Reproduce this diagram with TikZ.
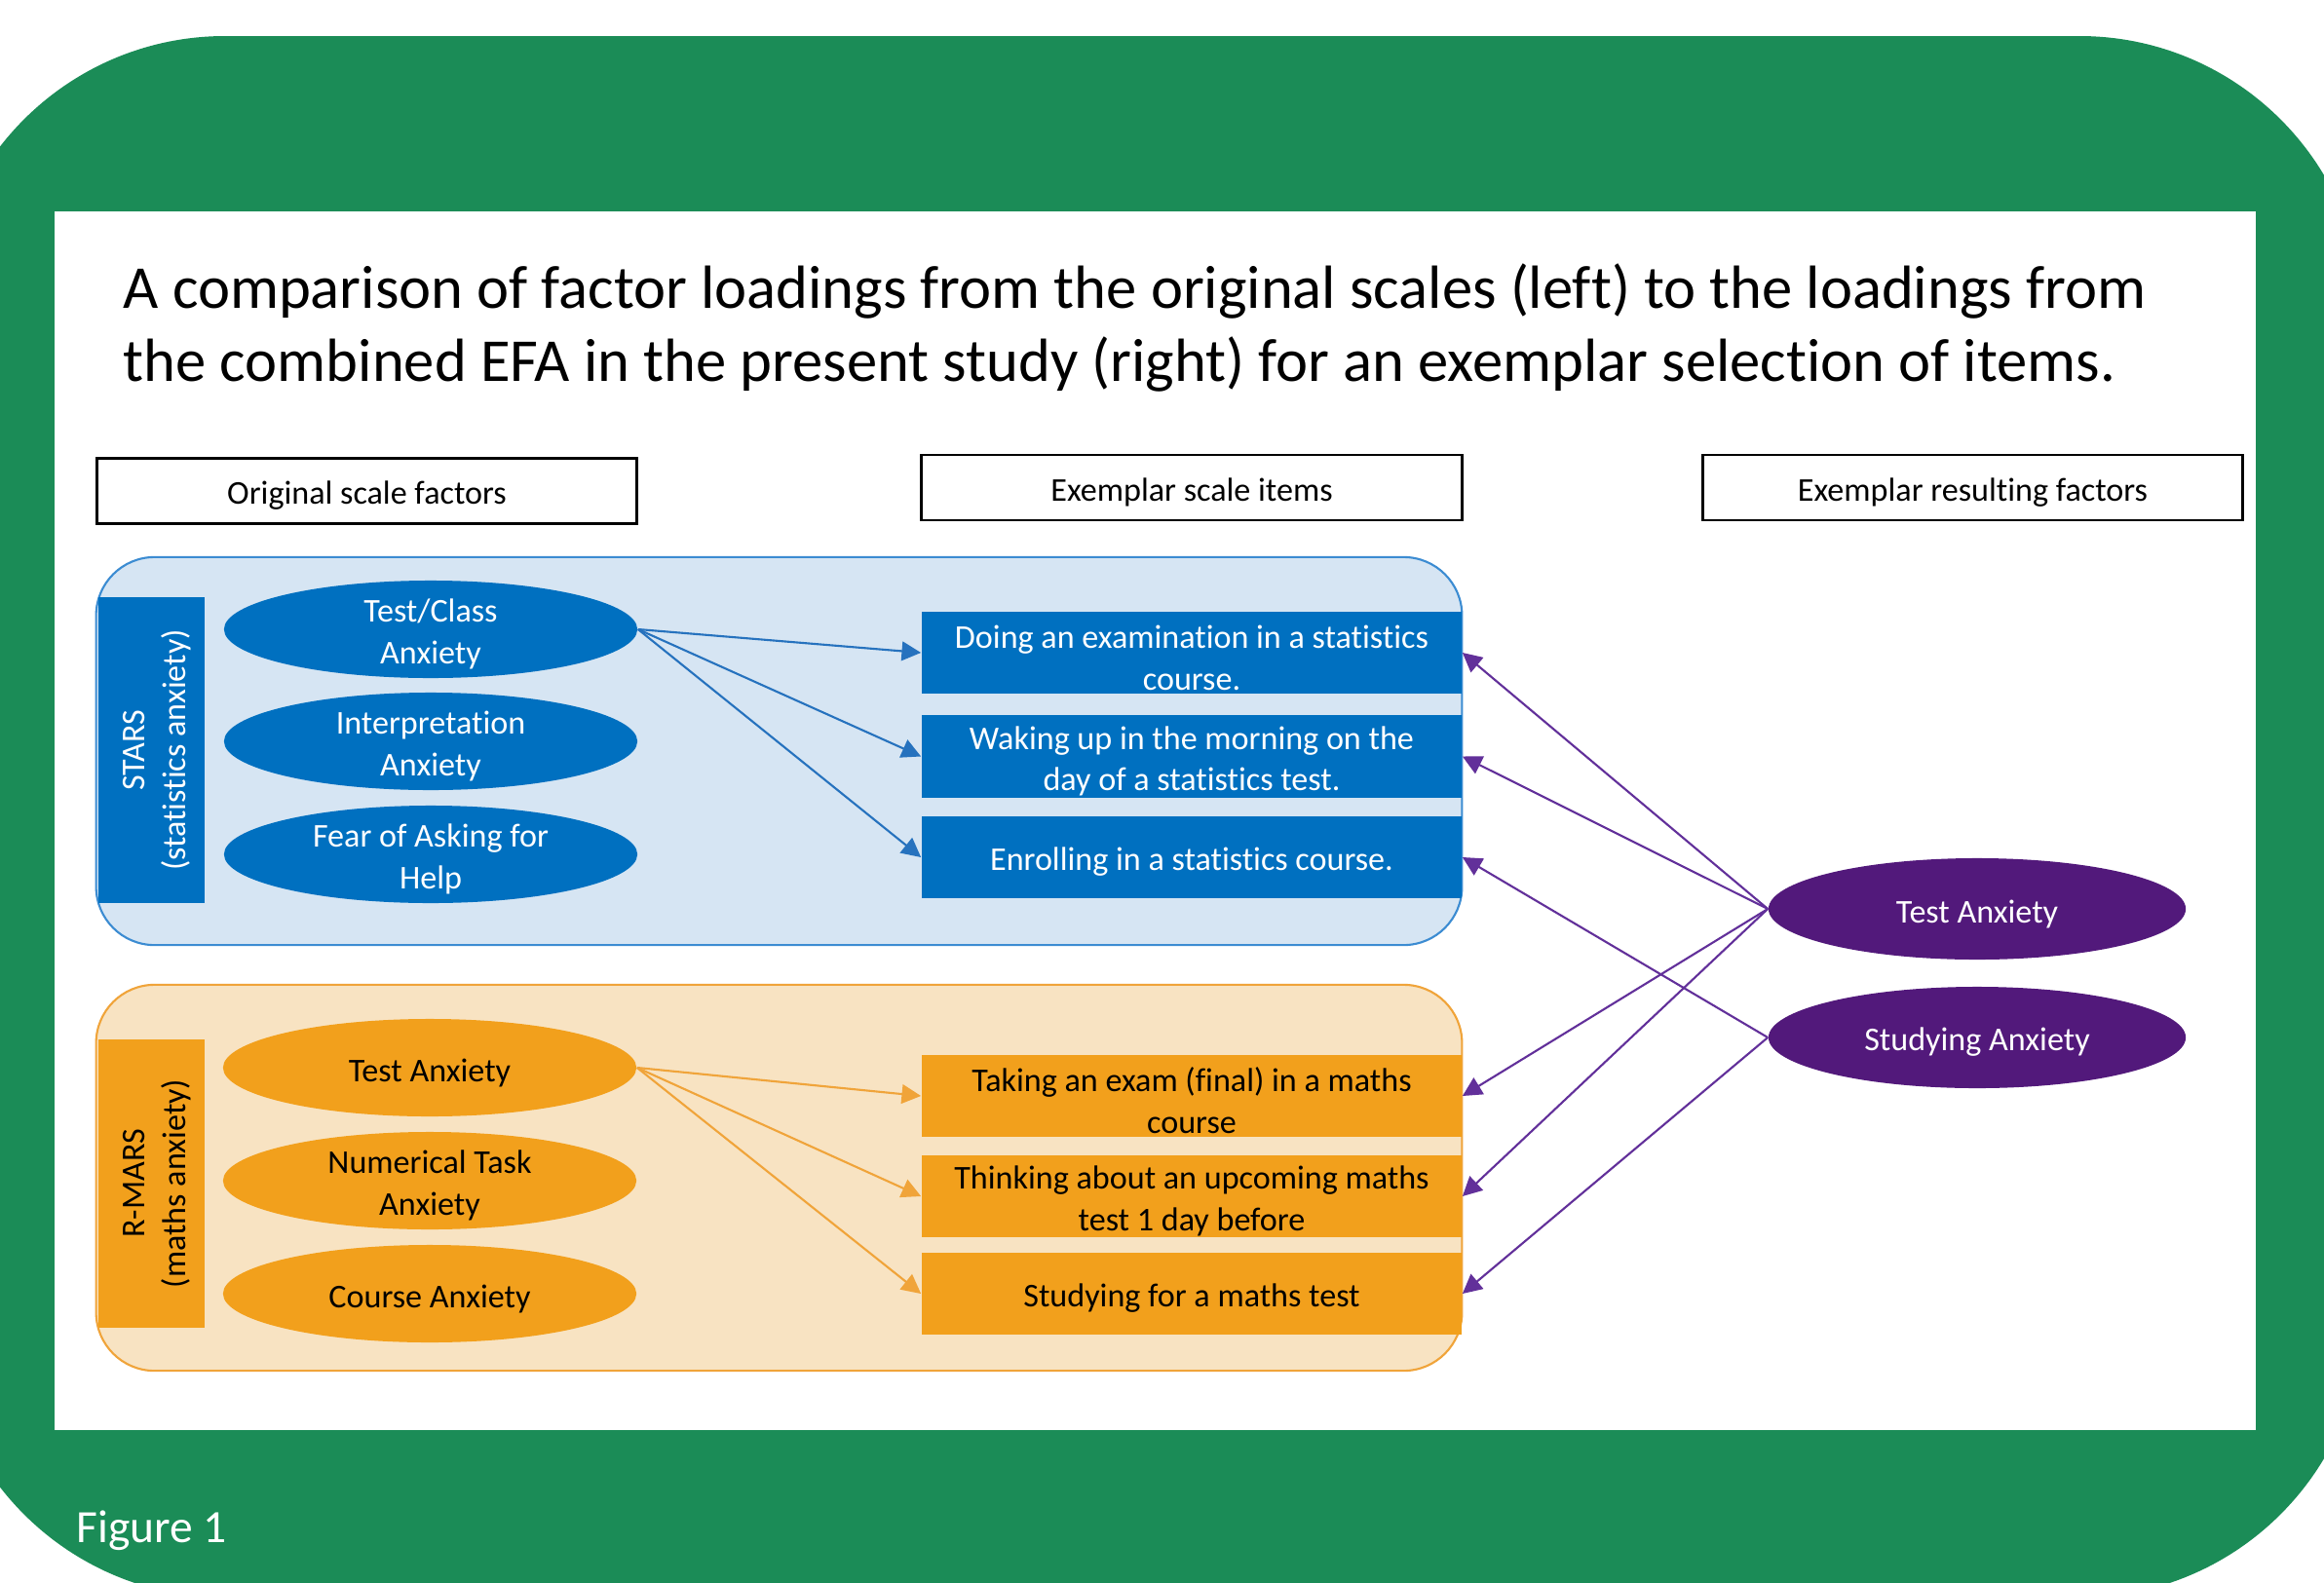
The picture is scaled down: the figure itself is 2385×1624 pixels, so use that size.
\documentclass[tikz,border=0pt]{standalone}
\usepackage{fontspec}
\setmainfont{Carlito}[Ligatures=NoCommon]
\usetikzlibrary{arrows.meta, shapes.geometric}

\definecolor{framegreen}{HTML}{1B8C57}
\definecolor{starsblue}{HTML}{0070C0}
\definecolor{starspale}{HTML}{D6E5F3}
\definecolor{starsedge}{HTML}{3C8CD2}
\definecolor{starsline}{HTML}{2672BE}
\definecolor{marsorange}{HTML}{F2A01C}
\definecolor{marspale}{HTML}{F8E3C2}
\definecolor{marsedge}{HTML}{F0A43A}
\definecolor{efapurple}{HTML}{52197B}
\definecolor{efaline}{HTML}{62309A}

% invisible strut that sets the top of the first text line
\newcommand\tstrut{\rule{0pt}{9.6pt}}

\begin{document}
\begin{tikzpicture}[x=0.01cm, y=-0.01cm,
  every node/.style={font=\fontsize{9.7pt}{12.1pt}\selectfont, inner sep=0pt, align=center},
  header/.style={draw=black, line width=0.8pt, fill=white, minimum width=5.54cm, minimum height=0.67cm},
  panel/.style={draw, line width=0.6pt, rounded corners=0.6cm, minimum width=14.01cm},
  sidebar/.style={rotate=90, minimum width=#1, minimum height=1.09cm},
  factor/.style={ellipse, inner ysep=-2pt, minimum width=4.24cm, minimum height=1.0cm},
  itembox/.style={rectangle, minimum width=5.54cm, minimum height=0.84cm},
  result/.style={ellipse, inner ysep=-2pt, fill=efapurple, text=white, minimum width=4.28cm, minimum height=1.04cm},
  load/.style={line width=0.6pt, -{Triangle[length=5.6pt, width=5.6pt]}},
]
% page frame
\useasboundingbox (0,0) rectangle (2385,1624);
\begin{scope}
  \clip (0,0) rectangle (2385,1624);
  \fill[framegreen, rounded corners=2.92cm] (-61,37) rectangle (2426,1640);
\end{scope}
\fill[white] (56,217) rectangle (2315,1468);

% title
\node[anchor=base west, font=\fontsize{17.8pt}{21pt}\selectfont] (title1) at (126,316)
  {A comparison of factor loadings from the original scales (left) to the loadings from};
\node[anchor=base west, font=\fontsize{17.8pt}{21pt}\selectfont] (title2) at (126,391)
  {the combined EFA in the present study (right) for an exemplar selection of items.};

% column headers
\node[header] (hfac)  at (376.5,504)  {\tstrut Original scale factors};
\node[header] (hitem) at (1223,500.5) {\tstrut Exemplar scale items};
\node[header] (hres)  at (2024.5,500.5) {\tstrut Exemplar resulting factors};

% STARS group
\node[panel, draw=starsedge, fill=starspale, minimum height=3.98cm] (starspanel) at (799.5,771) {};
\node[sidebar=3.14cm, fill=starsblue, text=white] (stars) at (155.5,770) {\tstrut STARS\\(statistics anxiety)};
\node[factor, fill=starsblue, text=white] (tca) at (442,646) {\tstrut Test/Class\\Anxiety};
\node[factor, fill=starsblue, text=white] (ia)  at (442,761) {\tstrut Interpretation\\Anxiety};
\node[factor, fill=starsblue, text=white] (fah) at (442,877) {\tstrut Fear of Asking for\\Help};
\node[itembox, fill=starsblue, text=white] (s1) at (1223,670)   {\tstrut Doing an examination in a statistics\\course.};
\node[itembox, fill=starsblue, text=white] (s2) at (1223,776.5) {\tstrut Waking up in the morning on the\\day of a statistics test.};
\node[itembox, fill=starsblue, text=white] (s3) at (1223,880)   {\tstrut Enrolling in a statistics course.};

% R-MARS group
\node[panel, draw=marsedge, fill=marspale, minimum height=3.96cm] (marspanel) at (799.5,1209) {};
\node[sidebar=2.96cm, fill=marsorange, text=black] (rmars) at (155.5,1215) {\tstrut R-MARS\\(maths anxiety)};
\node[factor, fill=marsorange] (ta)  at (441,1096) {\tstrut Test Anxiety};
\node[factor, fill=marsorange] (nta) at (441,1212) {\tstrut Numerical Task\\Anxiety};
\node[factor, fill=marsorange] (ca)  at (441,1328) {\tstrut Course Anxiety};
\node[itembox, fill=marsorange] (m1) at (1223,1125) {\tstrut Taking an exam (final) in a maths\\course};
\node[itembox, fill=marsorange] (m2) at (1223,1228) {\tstrut Thinking about an upcoming maths\\test 1 day before};
\node[itembox, fill=marsorange] (m3) at (1223,1328) {\tstrut Studying for a maths test};

% resulting factors
\node[result] (rta) at (2029,933)  {\tstrut Test Anxiety};
\node[result] (rsa) at (2029,1065) {\tstrut Studying Anxiety};

% original loadings
\draw[load, starsline] (tca.east) -- (s1.west);
\draw[load, starsline] (tca.east) -- (s2.west);
\draw[load, starsline] (tca.east) -- (s3.west);
\draw[load, marsedge] (ta.east) -- (m1.west);
\draw[load, marsedge] (ta.east) -- (m2.west);
\draw[load, marsedge] (ta.east) -- (m3.west);

% combined EFA loadings
\draw[load, efaline] (rta.west) -- (s1.east);
\draw[load, efaline] (rta.west) -- (s2.east);
\draw[load, efaline] (rta.west) -- (m1.east);
\draw[load, efaline] (rta.west) -- (m2.east);
\draw[load, efaline] (rsa.west) -- (s3.east);
\draw[load, efaline] (rsa.west) -- (m3.east);

% caption
\node[anchor=base west, text=white, font=\fontsize{13.5pt}{16pt}\selectfont] (caption) at (78,1583) {Figure 1};
\end{tikzpicture}
\end{document}
